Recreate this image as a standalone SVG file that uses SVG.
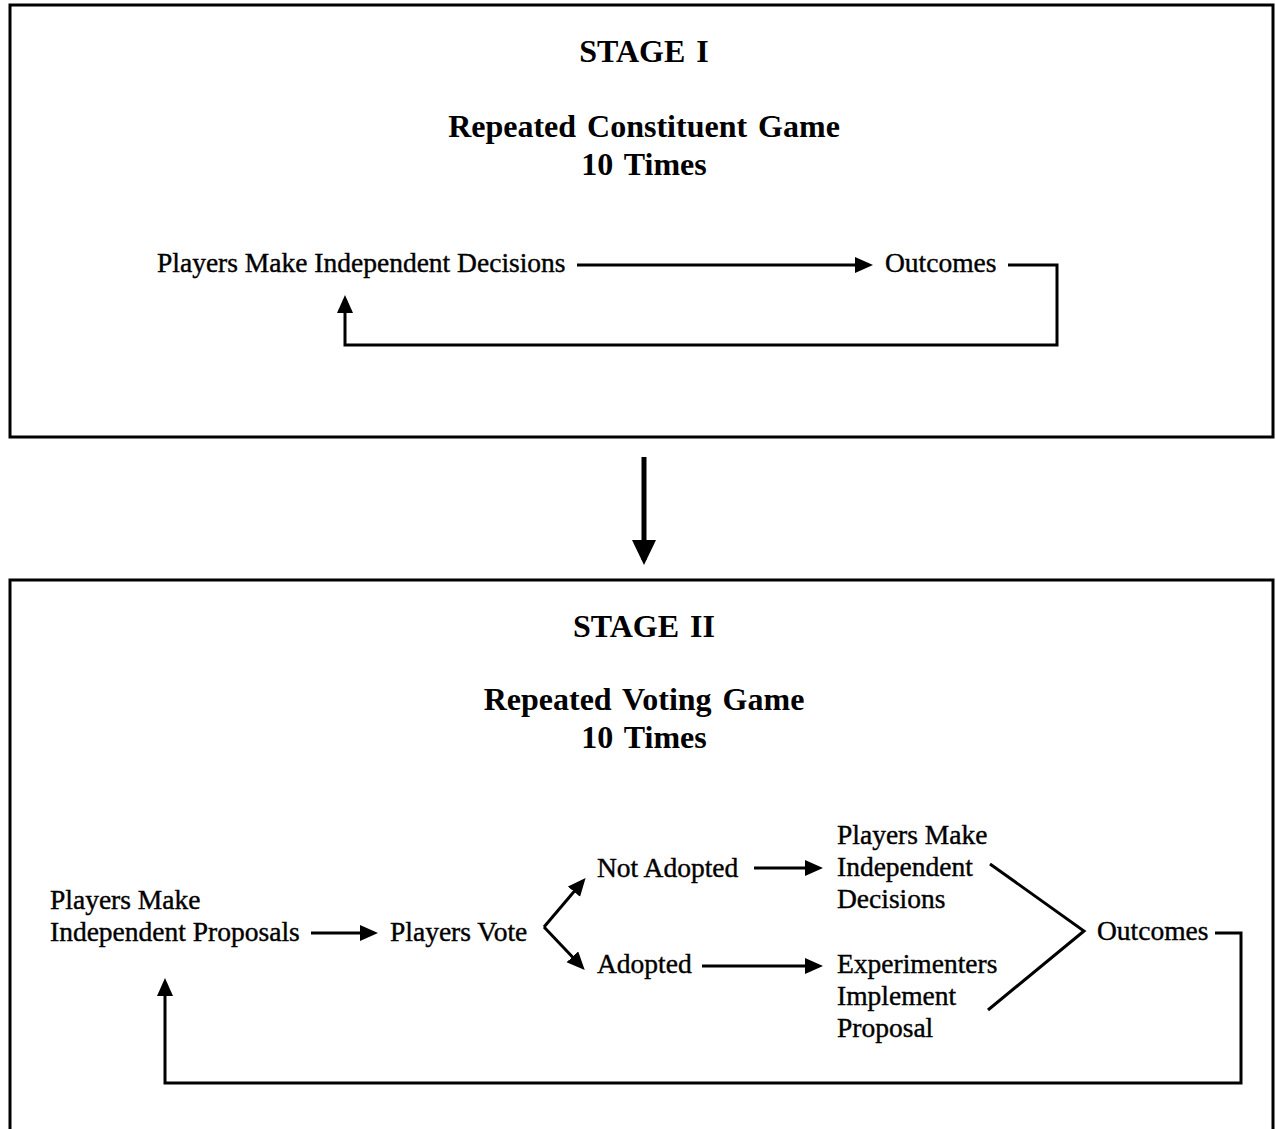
<svg xmlns="http://www.w3.org/2000/svg" width="1276" height="1129" viewBox="0 0 1276 1129">
<style>
.h{font-family:"Liberation Serif","Times New Roman",serif;font-weight:bold;font-size:32px;word-spacing:3px;text-anchor:middle;fill:#000}
.t{font-family:"Liberation Serif","Times New Roman",serif;font-size:27.5px;fill:#000;stroke:#000;stroke-width:0.4}
.ln{fill:none;stroke:#000;stroke-width:3}
.box{fill:#fff;stroke:#000;stroke-width:3}
</style>
<defs>
<marker id="ah" markerUnits="userSpaceOnUse" markerWidth="18" markerHeight="18" refX="14" refY="8" orient="auto">
<path d="M0,0 L18,8 L0,16 z" fill="#000"/>
</marker>
<marker id="big" markerUnits="userSpaceOnUse" markerWidth="26" markerHeight="26" refX="20" refY="12" orient="auto">
<path d="M0,0 L25,12 L0,24 z" fill="#000"/>
</marker>
</defs>
<rect width="1276" height="1129" fill="#fff"/>

<g id="stage1">
<rect class="box" x="10" y="5" width="1263" height="432"/>
<text class="h" x="644" y="62">STAGE I</text>
<text class="h" x="644" y="137">Repeated Constituent Game</text>
<text class="h" x="644" y="175">10 Times</text>
</g>
<g id="s1-decisions"><text class="t" x="157" y="272">Players Make Independent Decisions</text></g>
<g id="s1-outcomes"><text class="t" x="885" y="272">Outcomes</text></g>

<g id="stage2">
<path class="box" d="M10,1131 V580 H1273 V1131"/>
<text class="h" x="644" y="637">STAGE II</text>
<text class="h" x="644" y="710">Repeated Voting Game</text>
<text class="h" x="644" y="748">10 Times</text>
</g>
<g id="s2-proposals"><text class="t" x="50" y="909">Players Make</text><text class="t" x="50" y="941">Independent Proposals</text></g>
<g id="s2-vote"><text class="t" x="390" y="941">Players Vote</text></g>
<g id="s2-notadopted"><text class="t" x="597" y="877">Not Adopted</text></g>
<g id="s2-adopted"><text class="t" x="597" y="973">Adopted</text></g>
<g id="s2-decisions"><text class="t" x="837" y="844">Players Make</text><text class="t" x="837" y="876">Independent</text><text class="t" x="837" y="908">Decisions</text></g>
<g id="s2-implement"><text class="t" x="837" y="973">Experimenters</text><text class="t" x="837" y="1005">Implement</text><text class="t" x="837" y="1037">Proposal</text></g>
<g id="s2-outcomes"><text class="t" x="1097" y="940">Outcomes</text></g>

<g id="connectors">
<path class="ln" d="M577,265 H869" marker-end="url(#ah)"/>
<path class="ln" d="M1008,265 H1057 V345 H345 V299" marker-end="url(#ah)"/>
<path d="M644,457 V560" fill="none" stroke="#000" stroke-width="5" marker-end="url(#big)"/>
<path class="ln" d="M311,933 H374" marker-end="url(#ah)"/>
<path class="ln" d="M544,927 L583,881" marker-end="url(#ah)"/>
<path class="ln" d="M544,927 L582,967" marker-end="url(#ah)"/>
<path class="ln" d="M754,868 H819" marker-end="url(#ah)"/>
<path class="ln" d="M702,966 H819" marker-end="url(#ah)"/>
<path class="ln" d="M990,864 L1084,931 L988,1010"/>
<path class="ln" d="M1215,933 H1241 V1083 H165 V982" marker-end="url(#ah)"/>
</g>
</svg>
